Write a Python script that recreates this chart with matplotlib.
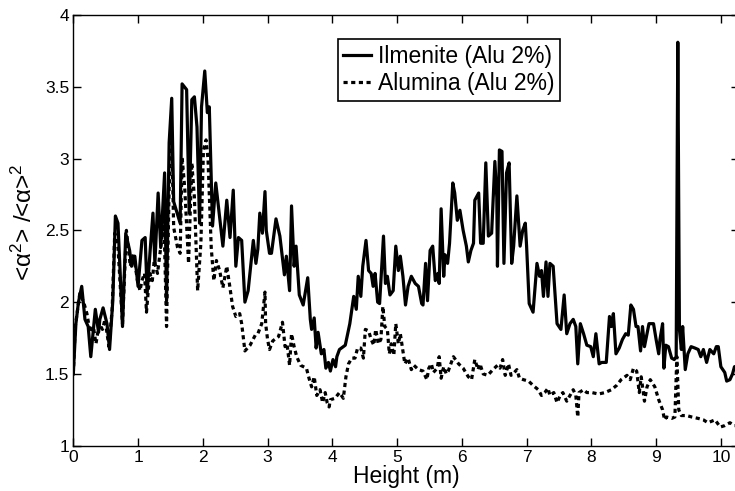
import numpy as np
import matplotlib
matplotlib.use("Agg")
import matplotlib.pyplot as plt
from matplotlib.ticker import FuncFormatter

plt.rcParams['font.family'] = ['Liberation Sans', 'DejaVu Sans']
plt.rcParams['mathtext.fontset'] = 'custom'
plt.rcParams['mathtext.rm'] = 'Liberation Sans'
plt.rcParams['mathtext.it'] = 'Liberation Sans:italic'

# Ilmenite (Alu 2%)
h_ilm = [0.00, 0.04, 0.08, 0.13, 0.18, 0.23, 0.27, 0.34, 0.39, 0.41, 0.46, 0.52, 0.56, 0.61, 0.65,
         0.69, 0.76, 0.81, 0.87, 0.90, 0.95, 1.00, 1.06, 1.11, 1.14, 1.19, 1.23, 1.26, 1.31, 1.35,
         1.41, 1.44, 1.48, 1.52, 1.55, 1.59, 1.65, 1.68, 1.75, 1.79, 1.83, 1.87, 1.91, 1.95, 1.98,
         2.03, 2.07, 2.10, 2.15, 2.20, 2.24, 2.31, 2.37, 2.42, 2.47, 2.51, 2.55, 2.60, 2.65, 2.70,
         2.78, 2.82, 2.85, 2.88, 2.92, 2.96, 2.98, 3.03, 3.06, 3.13, 3.19, 3.26, 3.29, 3.34, 3.37,
         3.41, 3.44, 3.49, 3.55, 3.62, 3.66, 3.68, 3.72, 3.75, 3.78, 3.83, 3.87, 3.90, 3.94, 3.97,
         4.01, 4.05, 4.07, 4.11, 4.20, 4.27, 4.33, 4.37, 4.40, 4.44, 4.47, 4.52, 4.56, 4.60, 4.63,
         4.66, 4.70, 4.73, 4.79, 4.82, 4.85, 4.89, 4.94, 4.98, 5.02, 5.05, 5.09, 5.13, 5.17, 5.22,
         5.28, 5.33, 5.38, 5.40, 5.44, 5.47, 5.51, 5.55, 5.59, 5.63, 5.65, 5.68, 5.72, 5.74, 5.78,
         5.81, 5.86, 5.89, 5.93, 5.97, 6.02, 6.07, 6.10, 6.14, 6.18, 6.20, 6.26, 6.29, 6.33, 6.37,
         6.41, 6.46, 6.51, 6.54, 6.55, 6.58, 6.62, 6.65, 6.69, 6.73, 6.77, 6.80, 6.85, 6.90, 6.94,
         6.98, 7.00, 7.04, 7.10, 7.16, 7.20, 7.23, 7.26, 7.30, 7.33, 7.36, 7.41, 7.47, 7.53, 7.58,
         7.62, 7.67, 7.72, 7.76, 7.79, 7.83, 7.88, 7.93, 7.99, 8.03, 8.07, 8.12, 8.16, 8.23, 8.28,
         8.31, 8.34, 8.38, 8.43, 8.48, 8.53, 8.57, 8.61, 8.65, 8.69, 8.72, 8.76, 8.79, 8.82, 8.86,
         8.89, 8.96, 9.00, 9.04, 9.06, 9.10, 9.12, 9.15, 9.19, 9.24, 9.28, 9.31, 9.335, 9.36, 9.39,
         9.41, 9.45, 9.49, 9.54, 9.60, 9.65, 9.69, 9.73, 9.78, 9.83, 9.89, 9.93, 9.96, 10.00, 10.06,
         10.09, 10.14, 10.18, 10.21, 10.30]
r_ilm = [1.50, 1.85, 2.00, 2.11, 1.88, 1.83, 1.62, 1.95, 1.79, 1.88, 1.96, 1.85, 1.67, 2.01, 2.60,
         2.55, 1.83, 2.48, 2.36, 2.25, 2.32, 2.11, 2.43, 2.45, 2.06, 2.38, 2.62, 2.27, 2.76, 2.38,
         2.90, 2.01, 3.11, 3.42, 2.70, 2.64, 2.55, 3.52, 3.48, 2.62, 3.41, 3.43, 3.22, 2.55, 3.36,
         3.61, 3.32, 3.36, 2.53, 2.83, 2.67, 2.39, 2.71, 2.45, 2.78, 2.25, 2.45, 2.43, 2.00, 2.08,
         2.43, 2.27, 2.37, 2.62, 2.48, 2.77, 2.50, 2.34, 2.34, 2.58, 2.46, 2.19, 2.32, 2.08, 2.67,
         2.25, 2.39, 2.05, 1.98, 2.17, 1.88, 1.81, 1.89, 1.68, 1.79, 1.64, 1.67, 1.54, 1.58, 1.52,
         1.60, 1.55, 1.62, 1.67, 1.70, 1.85, 2.04, 1.95, 2.18, 2.04, 2.25, 2.43, 2.22, 2.20, 2.11,
         2.20, 2.00, 1.99, 2.46, 2.13, 2.18, 2.05, 2.08, 2.39, 2.22, 2.32, 2.18, 1.98, 2.11, 2.18,
         2.13, 2.11, 1.99, 1.98, 2.27, 2.01, 2.36, 2.39, 2.15, 2.20, 2.13, 2.65, 2.18, 2.33, 2.27,
         2.41, 2.83, 2.76, 2.57, 2.64, 2.50, 2.39, 2.28, 2.36, 2.41, 2.71, 2.76, 2.41, 2.41, 2.97,
         2.46, 2.48, 2.98, 2.73, 2.25, 3.06, 3.05, 2.27, 2.90, 2.97, 2.27, 2.39, 2.74, 2.39, 2.50,
         2.55, 2.39, 1.99, 1.93, 2.27, 2.18, 2.22, 2.04, 2.28, 2.04, 2.27, 2.25, 1.85, 1.81, 2.05,
         1.78, 1.85, 1.88, 1.83, 1.57, 1.85, 1.78, 1.70, 1.69, 1.62, 1.78, 1.57, 1.58, 1.58, 1.90,
         1.83, 1.92, 1.64, 1.68, 1.74, 1.78, 1.77, 1.98, 1.95, 1.83, 1.83, 1.66, 1.83, 1.69, 1.78,
         1.85, 1.85, 1.74, 1.64, 1.74, 1.85, 1.54, 1.70, 1.69, 1.61, 1.60, 1.62, 3.81, 1.81, 1.67,
         1.83, 1.53, 1.64, 1.69, 1.68, 1.67, 1.62, 1.67, 1.58, 1.67, 1.64, 1.69, 1.69, 1.55, 1.51,
         1.45, 1.46, 1.50, 1.55, 1.56]

# Alumina (Alu 2%)
h_alu = [0.00, 0.03, 0.10, 0.16, 0.21, 0.26, 0.31, 0.35, 0.40, 0.45, 0.49, 0.55, 0.60, 0.64, 0.69,
         0.76, 0.82, 0.88, 0.93, 0.99, 1.03, 1.06, 1.10, 1.13, 1.18, 1.22, 1.25, 1.30, 1.35, 1.40,
         1.44, 1.48, 1.52, 1.55, 1.61, 1.65, 1.68, 1.72, 1.78, 1.83, 1.87, 1.92, 1.97, 2.01, 2.05,
         2.08, 2.13, 2.17, 2.21, 2.26, 2.31, 2.37, 2.41, 2.46, 2.51, 2.57, 2.60, 2.65, 2.73, 2.81,
         2.85, 2.91, 2.96, 2.97, 3.00, 3.03, 3.08, 3.17, 3.23, 3.27, 3.30, 3.34, 3.37, 3.41, 3.45,
         3.51, 3.60, 3.64, 3.68, 3.72, 3.76, 3.81, 3.85, 3.89, 3.92, 3.95, 3.97, 4.04, 4.11, 4.17,
         4.21, 4.25, 4.30, 4.35, 4.39, 4.44, 4.48, 4.51, 4.56, 4.60, 4.64, 4.67, 4.71, 4.75, 4.78,
         4.81, 4.85, 4.88, 4.91, 4.95, 4.98, 5.02, 5.05, 5.08, 5.12, 5.17, 5.22, 5.26, 5.33, 5.40,
         5.46, 5.49, 5.53, 5.56, 5.62, 5.65, 5.68, 5.72, 5.76, 5.79, 5.83, 5.87, 5.95, 6.02, 6.10,
         6.15, 6.20, 6.25, 6.28, 6.33, 6.40, 6.48, 6.55, 6.59, 6.63, 6.67, 6.72, 6.76, 6.81, 6.85,
         6.89, 6.95, 7.03, 7.10, 7.18, 7.23, 7.28, 7.33, 7.36, 7.42, 7.47, 7.52, 7.56, 7.62, 7.67,
         7.72, 7.76, 7.79, 7.81, 7.88, 7.93, 8.01, 8.11, 8.21, 8.31, 8.39, 8.46, 8.55, 8.60, 8.65,
         8.70, 8.74, 8.77, 8.82, 8.86, 8.91, 8.98, 9.04, 9.10, 9.13, 9.16, 9.24, 9.29, 9.32, 9.35,
         9.39, 9.47, 9.55, 9.65, 9.73, 9.80, 9.91, 9.99, 10.06, 10.14, 10.21, 10.30]
r_alu = [1.50, 1.83, 2.06, 2.00, 1.92, 1.79, 1.83, 1.71, 1.85, 1.81, 1.88, 1.69, 1.95, 2.48, 2.38,
         1.85, 2.50, 2.25, 2.34, 2.15, 2.08, 2.15, 2.20, 1.93, 2.20, 2.15, 2.29, 2.20, 2.38, 2.57,
         1.83, 2.80, 3.15, 2.52, 2.38, 2.34, 3.01, 2.80, 2.27, 2.97, 2.73, 2.08, 2.41, 3.06, 3.13,
         3.00, 2.38, 2.15, 2.29, 2.22, 2.10, 2.25, 2.13, 1.97, 1.90, 1.92, 1.85, 1.66, 1.70, 1.77,
         1.78, 1.85, 2.07, 1.85, 1.74, 1.67, 1.73, 1.76, 1.86, 1.69, 1.71, 1.56, 1.78, 1.69, 1.62,
         1.56, 1.54, 1.47, 1.41, 1.48, 1.35, 1.39, 1.30, 1.37, 1.30, 1.27, 1.32, 1.33, 1.37, 1.33,
         1.48, 1.57, 1.61, 1.61, 1.68, 1.68, 1.61, 1.81, 1.80, 1.74, 1.70, 1.81, 1.71, 1.74, 1.97,
         1.83, 1.81, 1.64, 1.71, 1.63, 1.85, 1.71, 1.78, 1.69, 1.57, 1.61, 1.53, 1.56, 1.53, 1.52,
         1.46, 1.54, 1.57, 1.51, 1.54, 1.62, 1.47, 1.55, 1.50, 1.52, 1.57, 1.62, 1.57, 1.54, 1.48,
         1.46, 1.60, 1.53, 1.57, 1.50, 1.49, 1.53, 1.56, 1.54, 1.60, 1.49, 1.57, 1.49, 1.51, 1.53,
         1.47, 1.46, 1.45, 1.42, 1.39, 1.35, 1.37, 1.40, 1.35, 1.37, 1.30, 1.35, 1.37, 1.31, 1.35,
         1.39, 1.35, 1.20, 1.37, 1.39, 1.37, 1.37, 1.36, 1.37, 1.39, 1.42, 1.46, 1.49, 1.46, 1.54,
         1.52, 1.37, 1.48, 1.31, 1.41, 1.46, 1.41, 1.32, 1.25, 1.18, 1.20, 1.19, 1.20, 1.62, 1.25,
         1.21, 1.21, 1.20, 1.19, 1.18, 1.16, 1.18, 1.13, 1.14, 1.16, 1.14, 1.14]

fig = plt.figure(figsize=(7.35, 4.91), dpi=100)
ax = fig.add_axes([73.3 / 735, 45.3 / 491, 665.7 / 735, 430.7 / 491])

ax.plot(h_ilm, r_ilm, color='black', lw=2.3, label='Ilmenite (Alu 2%)')
ax.plot(h_alu, r_alu, color='black', lw=2.3, linestyle=(0, (1.3, 1.1)),
        dash_capstyle='butt', label='Alumina (Alu 2%)')

ax.set_xlim(0, 10.28)
ax.set_ylim(1, 4)
ax.set_xticks(np.arange(0, 11, 1))
ax.set_yticks(np.arange(1, 4.01, 0.5))
ax.yaxis.set_major_formatter(FuncFormatter(lambda v, p: '%g' % v))
ax.tick_params(direction='in', length=6, width=1, top=True, right=True,
               labelsize=12.5, pad=3, colors='black')
for s in ax.spines.values():
    s.set_linewidth(1.0)

ax.set_xlabel('Height (m)', fontsize=16.5, labelpad=0)
ax.set_ylabel(r'<α$^2$> /<α>$^2$', fontsize=17.5)
ax.yaxis.set_label_coords(-0.054, 0.52)

leg = ax.legend(loc='upper left', bbox_to_anchor=(0.397, 0.944), borderaxespad=0,
                fontsize=16.5, fancybox=False, framealpha=1, edgecolor='black',
                handlelength=1.2, handletextpad=0.3, labelspacing=0.2, borderpad=0.25)
leg.get_frame().set_linewidth(1.2)

fig.savefig('out.png', dpi=100)
